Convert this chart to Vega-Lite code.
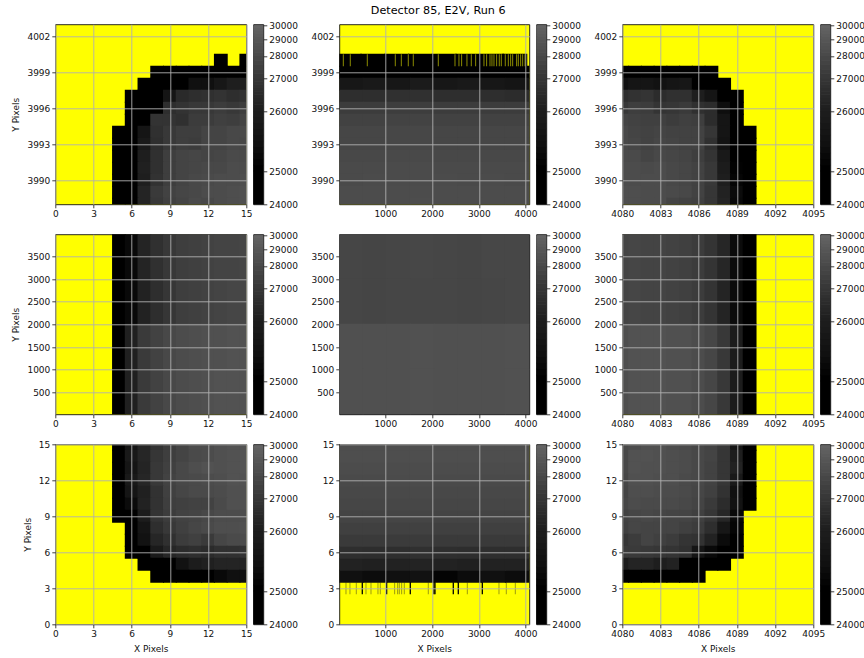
{"$schema":"https://vega.github.io/schema/vega-lite/v6.json","autosize":{"type":"pad"},"padding":{"left":11.3,"top":4.3,"right":0,"bottom":0},"background":"white",
"title":{"text":"Detector 85, E2V, Run 6","font":"DejaVu Sans","fontSize":11.2,"fontWeight":"normal","color":"#000","anchor":"middle","dx":0,"offset":4.5},
"config":{"view":{"stroke":"#111","strokeWidth":0.9,"fill":"#ffff00"},"axis":{"labelFont":"DejaVu Sans","labelFontSize":9,"labelColor":"#111","titleFont":"DejaVu Sans","titleFontSize":9,"titleFontWeight":"normal","titleColor":"#111","titlePadding":6,"grid":true,"gridColor":"#b0b0b0","gridWidth":0.9,"tickColor":"#111","tickSize":3.5,"tickWidth":0.8,"domain":false,"labelPadding":2,"labelOverlap":false,"labelFlush":false,"format":"d","title":null}},
"datasets":{
"sp":[{"x":0}],
"tl":[{"x":13,"y":4000,"v":24500},{"x":15,"y":4000,"v":24500},
{"x":8,"y":3999,"v":24500},{"x":9,"y":3999,"v":24500},{"x":10,"y":3999,"v":24500},{"x":11,"y":3999,"v":24500},{"x":12,"y":3999,"v":24500},{"x":13,"y":3999,"v":24500},{"x":14,"y":3999,"v":24500},{"x":15,"y":3999,"v":24500},
{"x":7,"y":3998,"v":24500},{"x":8,"y":3998,"v":24500},{"x":9,"y":3998,"v":24500},{"x":10,"y":3998,"v":24500},{"x":11,"y":3998,"v":25400},{"x":12,"y":3998,"v":25400},{"x":13,"y":3998,"v":25680},{"x":14,"y":3998,"v":26000},{"x":15,"y":3998,"v":26000},
{"x":6,"y":3997,"v":24500},{"x":7,"y":3997,"v":24500},{"x":8,"y":3997,"v":24500},{"x":9,"y":3997,"v":25600},{"x":10,"y":3997,"v":26460},{"x":11,"y":3997,"v":26620},{"x":12,"y":3997,"v":26690},{"x":13,"y":3997,"v":26800},{"x":14,"y":3997,"v":26620},{"x":15,"y":3997,"v":26800},
{"x":6,"y":3996,"v":24500},{"x":7,"y":3996,"v":24500},{"x":8,"y":3996,"v":24500},{"x":9,"y":3996,"v":26620},{"x":10,"y":3996,"v":26800},{"x":11,"y":3996,"v":27000},{"x":12,"y":3996,"v":27000},{"x":13,"y":3996,"v":27220},{"x":14,"y":3996,"v":27000},{"x":15,"y":3996,"v":27330},
{"x":6,"y":3995,"v":24500},{"x":7,"y":3995,"v":24500},{"x":8,"y":3995,"v":26800},{"x":9,"y":3995,"v":26800},{"x":10,"y":3995,"v":26690},{"x":11,"y":3995,"v":27220},{"x":12,"y":3995,"v":27220},{"x":13,"y":3995,"v":27440},{"x":14,"y":3995,"v":27330},{"x":15,"y":3995,"v":27670},
{"x":5,"y":3994,"v":24500},{"x":6,"y":3994,"v":24500},{"x":7,"y":3994,"v":25600},{"x":8,"y":3994,"v":26690},{"x":9,"y":3994,"v":27000},{"x":10,"y":3994,"v":27330},{"x":11,"y":3994,"v":27330},{"x":12,"y":3994,"v":27670},{"x":13,"y":3994,"v":27670},{"x":14,"y":3994,"v":27890},{"x":15,"y":3994,"v":28000},
{"x":5,"y":3993,"v":24500},{"x":6,"y":3993,"v":24500},{"x":7,"y":3993,"v":25770},{"x":8,"y":3993,"v":26620},{"x":9,"y":3993,"v":27000},{"x":10,"y":3993,"v":27330},{"x":11,"y":3993,"v":27220},{"x":12,"y":3993,"v":27670},{"x":13,"y":3993,"v":27670},{"x":14,"y":3993,"v":27890},{"x":15,"y":3993,"v":27890},
{"x":5,"y":3992,"v":24500},{"x":6,"y":3992,"v":24500},{"x":7,"y":3992,"v":26000},{"x":8,"y":3992,"v":26690},{"x":9,"y":3992,"v":27330},{"x":10,"y":3992,"v":27670},{"x":11,"y":3992,"v":27780},{"x":12,"y":3992,"v":27670},{"x":13,"y":3992,"v":27780},{"x":14,"y":3992,"v":28000},{"x":15,"y":3992,"v":28000},
{"x":5,"y":3991,"v":24500},{"x":6,"y":3991,"v":24500},{"x":7,"y":3991,"v":26080},{"x":8,"y":3991,"v":26690},{"x":9,"y":3991,"v":27330},{"x":10,"y":3991,"v":27670},{"x":11,"y":3991,"v":27780},{"x":12,"y":3991,"v":27890},{"x":13,"y":3991,"v":27890},{"x":14,"y":3991,"v":28140},{"x":15,"y":3991,"v":28140},
{"x":5,"y":3990,"v":24500},{"x":6,"y":3990,"v":24500},{"x":7,"y":3990,"v":26000},{"x":8,"y":3990,"v":26770},{"x":9,"y":3990,"v":27330},{"x":10,"y":3990,"v":27670},{"x":11,"y":3990,"v":27890},{"x":12,"y":3990,"v":28000},{"x":13,"y":3990,"v":28140},{"x":14,"y":3990,"v":28140},{"x":15,"y":3990,"v":28290},
{"x":5,"y":3989,"v":24500},{"x":6,"y":3989,"v":24500},{"x":7,"y":3989,"v":26230},{"x":8,"y":3989,"v":27110},{"x":9,"y":3989,"v":27560},{"x":10,"y":3989,"v":27780},{"x":11,"y":3989,"v":27890},{"x":12,"y":3989,"v":28140},{"x":13,"y":3989,"v":28140},{"x":14,"y":3989,"v":28290},{"x":15,"y":3989,"v":28430},
{"x":5,"y":3988,"v":24500},{"x":6,"y":3988,"v":24500},{"x":7,"y":3988,"v":26230},{"x":8,"y":3988,"v":27000},{"x":9,"y":3988,"v":27440},{"x":10,"y":3988,"v":27670},{"x":11,"y":3988,"v":28000},{"x":12,"y":3988,"v":27890},{"x":13,"y":3988,"v":28140},{"x":14,"y":3988,"v":28290},{"x":15,"y":3988,"v":28430}],
"tr":[{"x":4080,"y":3999,"v":24500},{"x":4081,"y":3999,"v":24500},{"x":4082,"y":3999,"v":24500},{"x":4083,"y":3999,"v":24500},{"x":4084,"y":3999,"v":24500},{"x":4085,"y":3999,"v":24500},{"x":4086,"y":3999,"v":24500},{"x":4087,"y":3999,"v":24500},
{"x":4080,"y":3998,"v":25400},{"x":4081,"y":3998,"v":25600},{"x":4082,"y":3998,"v":25600},{"x":4083,"y":3998,"v":25470},{"x":4084,"y":3998,"v":25600},{"x":4085,"y":3998,"v":25680},{"x":4086,"y":3998,"v":24500},{"x":4087,"y":3998,"v":24500},{"x":4088,"y":3998,"v":24500},
{"x":4080,"y":3997,"v":26620},{"x":4081,"y":3997,"v":26770},{"x":4082,"y":3997,"v":26850},{"x":4083,"y":3997,"v":26540},{"x":4084,"y":3997,"v":26690},{"x":4085,"y":3997,"v":26690},{"x":4086,"y":3997,"v":26000},{"x":4087,"y":3997,"v":25600},{"x":4088,"y":3997,"v":24500},{"x":4089,"y":3997,"v":24500},
{"x":4080,"y":3996,"v":27000},{"x":4081,"y":3996,"v":27330},{"x":4082,"y":3996,"v":27220},{"x":4083,"y":3996,"v":26850},{"x":4084,"y":3996,"v":26920},{"x":4085,"y":3996,"v":27110},{"x":4086,"y":3996,"v":26690},{"x":4087,"y":3996,"v":26540},{"x":4088,"y":3996,"v":25350},{"x":4089,"y":3996,"v":24500},
{"x":4080,"y":3995,"v":27670},{"x":4081,"y":3995,"v":27560},{"x":4082,"y":3995,"v":27440},{"x":4083,"y":3995,"v":27440},{"x":4084,"y":3995,"v":27220},{"x":4085,"y":3995,"v":27440},{"x":4086,"y":3995,"v":27330},{"x":4087,"y":3995,"v":26540},{"x":4088,"y":3995,"v":25600},{"x":4089,"y":3995,"v":24500},
{"x":4080,"y":3994,"v":27890},{"x":4081,"y":3994,"v":27670},{"x":4082,"y":3994,"v":27560},{"x":4083,"y":3994,"v":27670},{"x":4084,"y":3994,"v":27560},{"x":4085,"y":3994,"v":27560},{"x":4086,"y":3994,"v":27560},{"x":4087,"y":3994,"v":26920},{"x":4088,"y":3994,"v":25600},{"x":4089,"y":3994,"v":24500},{"x":4090,"y":3994,"v":24500},
{"x":4080,"y":3993,"v":27890},{"x":4081,"y":3993,"v":27780},{"x":4082,"y":3993,"v":27560},{"x":4083,"y":3993,"v":27780},{"x":4084,"y":3993,"v":27670},{"x":4085,"y":3993,"v":27560},{"x":4086,"y":3993,"v":27560},{"x":4087,"y":3993,"v":26690},{"x":4088,"y":3993,"v":25540},{"x":4089,"y":3993,"v":24500},{"x":4090,"y":3993,"v":24500},
{"x":4080,"y":3992,"v":28000},{"x":4081,"y":3992,"v":28000},{"x":4082,"y":3992,"v":27670},{"x":4083,"y":3992,"v":27890},{"x":4084,"y":3992,"v":27780},{"x":4085,"y":3992,"v":27670},{"x":4086,"y":3992,"v":27330},{"x":4087,"y":3992,"v":26850},{"x":4088,"y":3992,"v":25770},{"x":4089,"y":3992,"v":24500},{"x":4090,"y":3992,"v":24500},
{"x":4080,"y":3991,"v":28140},{"x":4081,"y":3991,"v":28140},{"x":4082,"y":3991,"v":28000},{"x":4083,"y":3991,"v":28140},{"x":4084,"y":3991,"v":27890},{"x":4085,"y":3991,"v":27780},{"x":4086,"y":3991,"v":27560},{"x":4087,"y":3991,"v":27000},{"x":4088,"y":3991,"v":25930},{"x":4089,"y":3991,"v":25050},{"x":4090,"y":3991,"v":24500},
{"x":4080,"y":3990,"v":28140},{"x":4081,"y":3990,"v":28140},{"x":4082,"y":3990,"v":28140},{"x":4083,"y":3990,"v":28140},{"x":4084,"y":3990,"v":27890},{"x":4085,"y":3990,"v":27780},{"x":4086,"y":3990,"v":27560},{"x":4087,"y":3990,"v":27000},{"x":4088,"y":3990,"v":26000},{"x":4089,"y":3990,"v":25120},{"x":4090,"y":3990,"v":24500},
{"x":4080,"y":3989,"v":28290},{"x":4081,"y":3989,"v":28290},{"x":4082,"y":3989,"v":28140},{"x":4083,"y":3989,"v":28140},{"x":4084,"y":3989,"v":28000},{"x":4085,"y":3989,"v":27890},{"x":4086,"y":3989,"v":27560},{"x":4087,"y":3989,"v":26920},{"x":4088,"y":3989,"v":26150},{"x":4089,"y":3989,"v":25280},{"x":4090,"y":3989,"v":24500},
{"x":4080,"y":3988,"v":28290},{"x":4081,"y":3988,"v":28290},{"x":4082,"y":3988,"v":28140},{"x":4083,"y":3988,"v":28140},{"x":4084,"y":3988,"v":27670},{"x":4085,"y":3988,"v":27560},{"x":4086,"y":3988,"v":27440},{"x":4087,"y":3988,"v":26920},{"x":4088,"y":3988,"v":26230},{"x":4089,"y":3988,"v":25220},{"x":4090,"y":3988,"v":24500}],
"bl":[{"x":5,"y":15,"v":24500},{"x":6,"y":15,"v":25600},{"x":7,"y":15,"v":26230},{"x":8,"y":15,"v":26800},{"x":9,"y":15,"v":27220},{"x":10,"y":15,"v":27670},{"x":11,"y":15,"v":28140},{"x":12,"y":15,"v":28140},{"x":13,"y":15,"v":28430},{"x":14,"y":15,"v":28570},{"x":15,"y":15,"v":28570},
{"x":5,"y":14,"v":24500},{"x":6,"y":14,"v":25770},{"x":7,"y":14,"v":26310},{"x":8,"y":14,"v":26920},{"x":9,"y":14,"v":27330},{"x":10,"y":14,"v":27670},{"x":11,"y":14,"v":28000},{"x":12,"y":14,"v":28140},{"x":13,"y":14,"v":28430},{"x":14,"y":14,"v":28570},{"x":15,"y":14,"v":28710},
{"x":5,"y":13,"v":24500},{"x":6,"y":13,"v":25600},{"x":7,"y":13,"v":26230},{"x":8,"y":13,"v":27000},{"x":9,"y":13,"v":27440},{"x":10,"y":13,"v":27890},{"x":11,"y":13,"v":28290},{"x":12,"y":13,"v":28570},{"x":13,"y":13,"v":28430},{"x":14,"y":13,"v":28570},{"x":15,"y":13,"v":28710},
{"x":5,"y":12,"v":24500},{"x":6,"y":12,"v":25770},{"x":7,"y":12,"v":26310},{"x":8,"y":12,"v":27000},{"x":9,"y":12,"v":27560},{"x":10,"y":12,"v":27890},{"x":11,"y":12,"v":28000},{"x":12,"y":12,"v":28140},{"x":13,"y":12,"v":28290},{"x":14,"y":12,"v":28570},{"x":15,"y":12,"v":28570},
{"x":5,"y":11,"v":24500},{"x":6,"y":11,"v":25600},{"x":7,"y":11,"v":26080},{"x":8,"y":11,"v":26770},{"x":9,"y":11,"v":27440},{"x":10,"y":11,"v":27780},{"x":11,"y":11,"v":28000},{"x":12,"y":11,"v":28000},{"x":13,"y":11,"v":28140},{"x":14,"y":11,"v":28430},{"x":15,"y":11,"v":28430},
{"x":5,"y":10,"v":24500},{"x":6,"y":10,"v":25280},{"x":7,"y":10,"v":26150},{"x":8,"y":10,"v":26770},{"x":9,"y":10,"v":27330},{"x":10,"y":10,"v":27440},{"x":11,"y":10,"v":27560},{"x":12,"y":10,"v":27560},{"x":13,"y":10,"v":28000},{"x":14,"y":10,"v":28430},{"x":15,"y":10,"v":28430},
{"x":5,"y":9,"v":24500},{"x":6,"y":9,"v":24500},{"x":7,"y":9,"v":25930},{"x":8,"y":9,"v":26850},{"x":9,"y":9,"v":27220},{"x":10,"y":9,"v":27560},{"x":11,"y":9,"v":27670},{"x":12,"y":9,"v":27890},{"x":13,"y":9,"v":28140},{"x":14,"y":9,"v":28140},{"x":15,"y":9,"v":28290},
{"x":6,"y":8,"v":24500},{"x":7,"y":8,"v":25600},{"x":8,"y":8,"v":26620},{"x":9,"y":8,"v":27000},{"x":10,"y":8,"v":27440},{"x":11,"y":8,"v":27780},{"x":12,"y":8,"v":28000},{"x":13,"y":8,"v":28290},{"x":14,"y":8,"v":28290},{"x":15,"y":8,"v":28430},
{"x":6,"y":7,"v":24500},{"x":7,"y":7,"v":25470},{"x":8,"y":7,"v":26310},{"x":9,"y":7,"v":26690},{"x":10,"y":7,"v":27220},{"x":11,"y":7,"v":27440},{"x":12,"y":7,"v":27110},{"x":13,"y":7,"v":27780},{"x":14,"y":7,"v":28000},{"x":15,"y":7,"v":28140},
{"x":6,"y":6,"v":24500},{"x":7,"y":6,"v":24500},{"x":8,"y":6,"v":25800},{"x":9,"y":6,"v":26300},{"x":10,"y":6,"v":26500},{"x":11,"y":6,"v":26620},{"x":12,"y":6,"v":26500},{"x":13,"y":6,"v":26700},{"x":14,"y":6,"v":26700},{"x":15,"y":6,"v":26800},
{"x":7,"y":5,"v":24500},{"x":8,"y":5,"v":24500},{"x":9,"y":5,"v":24500},{"x":10,"y":5,"v":25500},{"x":11,"y":5,"v":25900},{"x":12,"y":5,"v":26100},{"x":13,"y":5,"v":26230},{"x":14,"y":5,"v":26230},{"x":15,"y":5,"v":26230},
{"x":8,"y":4,"v":24500},{"x":9,"y":4,"v":24500},{"x":10,"y":4,"v":24500},{"x":11,"y":4,"v":24500},{"x":12,"y":4,"v":24500},{"x":13,"y":4,"v":25220},{"x":14,"y":4,"v":25400},{"x":15,"y":4,"v":25400}],
"br":[{"x":4080,"y":15,"v":27890},{"x":4081,"y":15,"v":28140},{"x":4082,"y":15,"v":28430},{"x":4083,"y":15,"v":28430},{"x":4084,"y":15,"v":28140},{"x":4085,"y":15,"v":28000},{"x":4086,"y":15,"v":27780},{"x":4087,"y":15,"v":27560},{"x":4088,"y":15,"v":27000},{"x":4089,"y":15,"v":25600},{"x":4090,"y":15,"v":24500},
{"x":4080,"y":14,"v":27890},{"x":4081,"y":14,"v":28570},{"x":4082,"y":14,"v":28570},{"x":4083,"y":14,"v":28430},{"x":4084,"y":14,"v":28290},{"x":4085,"y":14,"v":28140},{"x":4086,"y":14,"v":27890},{"x":4087,"y":14,"v":27670},{"x":4088,"y":14,"v":26920},{"x":4089,"y":14,"v":26000},{"x":4090,"y":14,"v":24500},
{"x":4080,"y":13,"v":27890},{"x":4081,"y":13,"v":28570},{"x":4082,"y":13,"v":28430},{"x":4083,"y":13,"v":28430},{"x":4084,"y":13,"v":28290},{"x":4085,"y":13,"v":28140},{"x":4086,"y":13,"v":27890},{"x":4087,"y":13,"v":27560},{"x":4088,"y":13,"v":26920},{"x":4089,"y":13,"v":26150},{"x":4090,"y":13,"v":24500},
{"x":4080,"y":12,"v":27780},{"x":4081,"y":12,"v":28430},{"x":4082,"y":12,"v":28430},{"x":4083,"y":12,"v":28290},{"x":4084,"y":12,"v":28290},{"x":4085,"y":12,"v":28000},{"x":4086,"y":12,"v":27890},{"x":4087,"y":12,"v":27560},{"x":4088,"y":12,"v":26920},{"x":4089,"y":12,"v":25770},{"x":4090,"y":12,"v":24500},
{"x":4080,"y":11,"v":27670},{"x":4081,"y":11,"v":28290},{"x":4082,"y":11,"v":28290},{"x":4083,"y":11,"v":28140},{"x":4084,"y":11,"v":28140},{"x":4085,"y":11,"v":28000},{"x":4086,"y":11,"v":27780},{"x":4087,"y":11,"v":27440},{"x":4088,"y":11,"v":26770},{"x":4089,"y":11,"v":25400},{"x":4090,"y":11,"v":24500},
{"x":4080,"y":10,"v":27780},{"x":4081,"y":10,"v":28140},{"x":4082,"y":10,"v":28000},{"x":4083,"y":10,"v":28000},{"x":4084,"y":10,"v":28000},{"x":4085,"y":10,"v":27890},{"x":4086,"y":10,"v":27670},{"x":4087,"y":10,"v":27110},{"x":4088,"y":10,"v":26540},{"x":4089,"y":10,"v":25470},{"x":4090,"y":10,"v":24500},
{"x":4080,"y":9,"v":27560},{"x":4081,"y":9,"v":27780},{"x":4082,"y":9,"v":27890},{"x":4083,"y":9,"v":27780},{"x":4084,"y":9,"v":27670},{"x":4085,"y":9,"v":27670},{"x":4086,"y":9,"v":27440},{"x":4087,"y":9,"v":26920},{"x":4088,"y":9,"v":26310},{"x":4089,"y":9,"v":25220},
{"x":4080,"y":8,"v":27440},{"x":4081,"y":8,"v":27780},{"x":4082,"y":8,"v":27670},{"x":4083,"y":8,"v":27670},{"x":4084,"y":8,"v":27670},{"x":4085,"y":8,"v":27440},{"x":4086,"y":8,"v":27220},{"x":4087,"y":8,"v":26620},{"x":4088,"y":8,"v":25680},{"x":4089,"y":8,"v":25120},
{"x":4080,"y":7,"v":26920},{"x":4081,"y":7,"v":27220},{"x":4082,"y":7,"v":27670},{"x":4083,"y":7,"v":27440},{"x":4084,"y":7,"v":27220},{"x":4085,"y":7,"v":26850},{"x":4086,"y":7,"v":26770},{"x":4087,"y":7,"v":26150},{"x":4088,"y":7,"v":25280},{"x":4089,"y":7,"v":24500},
{"x":4080,"y":6,"v":27110},{"x":4081,"y":6,"v":27110},{"x":4082,"y":6,"v":27000},{"x":4083,"y":6,"v":26920},{"x":4084,"y":6,"v":26850},{"x":4085,"y":6,"v":26690},{"x":4086,"y":6,"v":25600},{"x":4087,"y":6,"v":25220},{"x":4088,"y":6,"v":24500},{"x":4089,"y":6,"v":24500},
{"x":4080,"y":5,"v":25930},{"x":4081,"y":5,"v":26230},{"x":4082,"y":5,"v":26230},{"x":4083,"y":5,"v":26000},{"x":4084,"y":5,"v":26150},{"x":4085,"y":5,"v":24500},{"x":4086,"y":5,"v":24500},{"x":4087,"y":5,"v":24500},{"x":4088,"y":5,"v":24500},
{"x":4080,"y":4,"v":24500},{"x":4081,"y":4,"v":24500},{"x":4082,"y":4,"v":24500},{"x":4083,"y":4,"v":24500},{"x":4084,"y":4,"v":24500},{"x":4085,"y":4,"v":24500},{"x":4086,"y":4,"v":24500}],
"ml":[{"x":5,"y":3491,"v":24500},{"x":6,"y":3491,"v":25220},{"x":7,"y":3491,"v":26230},{"x":8,"y":3491,"v":26690},{"x":9,"y":3491,"v":27000},{"x":10,"y":3491,"v":27330},{"x":11,"y":3491,"v":27440},{"x":12,"y":3491,"v":27560},{"x":13,"y":3491,"v":27670},{"x":14,"y":3491,"v":27670},{"x":15,"y":3491,"v":27780},
{"x":5,"y":2499,"v":24500},{"x":6,"y":2499,"v":25220},{"x":7,"y":2499,"v":26150},{"x":8,"y":2499,"v":26620},{"x":9,"y":2499,"v":26920},{"x":10,"y":2499,"v":27330},{"x":11,"y":2499,"v":27440},{"x":12,"y":2499,"v":27560},{"x":13,"y":2499,"v":27670},{"x":14,"y":2499,"v":27780},{"x":15,"y":2499,"v":27780},
{"x":5,"y":1505,"v":24500},{"x":6,"y":1505,"v":26080},{"x":7,"y":1505,"v":27110},{"x":8,"y":1505,"v":27560},{"x":9,"y":1505,"v":27890},{"x":10,"y":1505,"v":28140},{"x":11,"y":1505,"v":28290},{"x":12,"y":1505,"v":28430},{"x":13,"y":1505,"v":28430},{"x":14,"y":1505,"v":28570},{"x":15,"y":1505,"v":28570},
{"x":5,"y":511,"v":24500},{"x":6,"y":511,"v":26080},{"x":7,"y":511,"v":27110},{"x":8,"y":511,"v":27560},{"x":9,"y":511,"v":27890},{"x":10,"y":511,"v":28140},{"x":11,"y":511,"v":28290},{"x":12,"y":511,"v":28430},{"x":13,"y":511,"v":28570},{"x":14,"y":511,"v":28570},{"x":15,"y":511,"v":28570}],
"mr":[{"x":4080,"y":3491,"v":27670},{"x":4081,"y":3491,"v":27780},{"x":4082,"y":3491,"v":27670},{"x":4083,"y":3491,"v":27670},{"x":4084,"y":3491,"v":27560},{"x":4085,"y":3491,"v":27440},{"x":4086,"y":3491,"v":27220},{"x":4087,"y":3491,"v":26850},{"x":4088,"y":3491,"v":26310},{"x":4089,"y":3491,"v":25280},{"x":4090,"y":3491,"v":24500},
{"x":4080,"y":2499,"v":27670},{"x":4081,"y":2499,"v":27780},{"x":4082,"y":2499,"v":27670},{"x":4083,"y":2499,"v":27670},{"x":4084,"y":2499,"v":27560},{"x":4085,"y":2499,"v":27440},{"x":4086,"y":2499,"v":27220},{"x":4087,"y":2499,"v":26850},{"x":4088,"y":2499,"v":26230},{"x":4089,"y":2499,"v":25280},{"x":4090,"y":2499,"v":24500},
{"x":4080,"y":1505,"v":28290},{"x":4081,"y":1505,"v":28570},{"x":4082,"y":1505,"v":28570},{"x":4083,"y":1505,"v":28570},{"x":4084,"y":1505,"v":28430},{"x":4085,"y":1505,"v":28430},{"x":4086,"y":1505,"v":28140},{"x":4087,"y":1505,"v":27780},{"x":4088,"y":1505,"v":27000},{"x":4089,"y":1505,"v":25930},{"x":4090,"y":1505,"v":24500},
{"x":4080,"y":511,"v":28290},{"x":4081,"y":511,"v":28570},{"x":4082,"y":511,"v":28570},{"x":4083,"y":511,"v":28570},{"x":4084,"y":511,"v":28430},{"x":4085,"y":511,"v":28430},{"x":4086,"y":511,"v":28140},{"x":4087,"y":511,"v":27780},{"x":4088,"y":511,"v":27000},{"x":4089,"y":511,"v":25930},{"x":4090,"y":511,"v":24500}],
"mc":[{"x":269,"y":3491,"v":27780},{"x":777,"y":3491,"v":27740},{"x":1285,"y":3491,"v":27780},{"x":1793,"y":3491,"v":27820},{"x":2301,"y":3491,"v":27780},{"x":2809,"y":3491,"v":27740},{"x":3317,"y":3491,"v":27820},{"x":3825,"y":3491,"v":27860},
{"x":269,"y":2499,"v":27760},{"x":777,"y":2499,"v":27720},{"x":1285,"y":2499,"v":27760},{"x":1793,"y":2499,"v":27800},{"x":2301,"y":2499,"v":27760},{"x":2809,"y":2499,"v":27720},{"x":3317,"y":2499,"v":27800},{"x":3825,"y":2499,"v":27840},
{"x":269,"y":1505,"v":28400},{"x":777,"y":1505,"v":28430},{"x":1285,"y":1505,"v":28400},{"x":1793,"y":1505,"v":28470},{"x":2301,"y":1505,"v":28400},{"x":2809,"y":1505,"v":28430},{"x":3317,"y":1505,"v":28430},{"x":3825,"y":1505,"v":28470},
{"x":269,"y":511,"v":28430},{"x":777,"y":511,"v":28460},{"x":1285,"y":511,"v":28430},{"x":1793,"y":511,"v":28500},{"x":2301,"y":511,"v":28430},{"x":2809,"y":511,"v":28460},{"x":3317,"y":511,"v":28460},{"x":3825,"y":511,"v":28500}],
"tc":[{"x":226,"y":4000,"v":24500},{"x":734,"y":4000,"v":24500},{"x":1242,"y":4000,"v":24500},{"x":1750,"y":4000,"v":24500},{"x":2258,"y":4000,"v":24500},{"x":2766,"y":4000,"v":24500},{"x":3274,"y":4000,"v":24500},{"x":3770,"y":4000,"v":24500},
{"x":269,"y":3999,"v":25000},{"x":777,"y":3999,"v":25000},{"x":1285,"y":3999,"v":25000},{"x":1793,"y":3999,"v":25000},{"x":2301,"y":3999,"v":25000},{"x":2809,"y":3999,"v":25000},{"x":3317,"y":3999,"v":25000},{"x":3825,"y":3999,"v":25000},
{"x":269,"y":3998,"v":25700},{"x":777,"y":3998,"v":25770},{"x":1285,"y":3998,"v":25700},{"x":1793,"y":3998,"v":25850},{"x":2301,"y":3998,"v":25700},{"x":2809,"y":3998,"v":25770},{"x":3317,"y":3998,"v":25700},{"x":3825,"y":3998,"v":25600},
{"x":269,"y":3997,"v":26620},{"x":777,"y":3997,"v":26620},{"x":1285,"y":3997,"v":26690},{"x":1793,"y":3997,"v":26690},{"x":2301,"y":3997,"v":26620},{"x":2809,"y":3997,"v":26620},{"x":3317,"y":3997,"v":26620},{"x":3825,"y":3997,"v":26540},
{"x":269,"y":3996,"v":27220},{"x":777,"y":3996,"v":27220},{"x":1285,"y":3996,"v":27260},{"x":1793,"y":3996,"v":27260},{"x":2301,"y":3996,"v":27220},{"x":2809,"y":3996,"v":27220},{"x":3317,"y":3996,"v":27220},{"x":3825,"y":3996,"v":27220},
{"x":269,"y":3995,"v":27560},{"x":777,"y":3995,"v":27560},{"x":1285,"y":3995,"v":27600},{"x":1793,"y":3995,"v":27600},{"x":2301,"y":3995,"v":27560},{"x":2809,"y":3995,"v":27560},{"x":3317,"y":3995,"v":27560},{"x":3825,"y":3995,"v":27560},
{"x":269,"y":3994,"v":27780},{"x":777,"y":3994,"v":27780},{"x":1285,"y":3994,"v":27820},{"x":1793,"y":3994,"v":27820},{"x":2301,"y":3994,"v":27780},{"x":2809,"y":3994,"v":27780},{"x":3317,"y":3994,"v":27780},{"x":3825,"y":3994,"v":27780},
{"x":269,"y":3993,"v":27780},{"x":777,"y":3993,"v":27800},{"x":1285,"y":3993,"v":27820},{"x":1793,"y":3993,"v":27840},{"x":2301,"y":3993,"v":27800},{"x":2809,"y":3993,"v":27780},{"x":3317,"y":3993,"v":27800},{"x":3825,"y":3993,"v":27780},
{"x":269,"y":3992,"v":27890},{"x":777,"y":3992,"v":27890},{"x":1285,"y":3992,"v":27930},{"x":1793,"y":3992,"v":27930},{"x":2301,"y":3992,"v":27890},{"x":2809,"y":3992,"v":27890},{"x":3317,"y":3992,"v":27890},{"x":3825,"y":3992,"v":27890},
{"x":269,"y":3991,"v":28000},{"x":777,"y":3991,"v":28000},{"x":1285,"y":3991,"v":28040},{"x":1793,"y":3991,"v":28040},{"x":2301,"y":3991,"v":28000},{"x":2809,"y":3991,"v":28000},{"x":3317,"y":3991,"v":28000},{"x":3825,"y":3991,"v":28000},
{"x":269,"y":3990,"v":28000},{"x":777,"y":3990,"v":28040},{"x":1285,"y":3990,"v":28060},{"x":1793,"y":3990,"v":28060},{"x":2301,"y":3990,"v":28040},{"x":2809,"y":3990,"v":28000},{"x":3317,"y":3990,"v":28040},{"x":3825,"y":3990,"v":28000},
{"x":269,"y":3989,"v":28140},{"x":777,"y":3989,"v":28140},{"x":1285,"y":3989,"v":28180},{"x":1793,"y":3989,"v":28180},{"x":2301,"y":3989,"v":28140},{"x":2809,"y":3989,"v":28140},{"x":3317,"y":3989,"v":28140},{"x":3825,"y":3989,"v":28140},
{"x":269,"y":3988,"v":28140},{"x":777,"y":3988,"v":28160},{"x":1285,"y":3988,"v":28180},{"x":1793,"y":3988,"v":28200},{"x":2301,"y":3988,"v":28160},{"x":2809,"y":3988,"v":28140},{"x":3317,"y":3988,"v":28160},{"x":3825,"y":3988,"v":28140}],
"bc":[{"x":269,"y":4,"v":25400},{"x":777,"y":4,"v":25300},{"x":1285,"y":4,"v":25400},{"x":1793,"y":4,"v":25500},{"x":2301,"y":4,"v":25100},{"x":2809,"y":4,"v":25300},{"x":3317,"y":4,"v":25400},{"x":3825,"y":4,"v":25300},
{"x":269,"y":5,"v":26150},{"x":777,"y":5,"v":26100},{"x":1285,"y":5,"v":26150},{"x":1793,"y":5,"v":26200},{"x":2301,"y":5,"v":26150},{"x":2809,"y":5,"v":26100},{"x":3317,"y":5,"v":26150},{"x":3825,"y":5,"v":26150},
{"x":269,"y":6,"v":26620},{"x":777,"y":6,"v":26600},{"x":1285,"y":6,"v":26620},{"x":1793,"y":6,"v":26690},{"x":2301,"y":6,"v":26620},{"x":2809,"y":6,"v":26600},{"x":3317,"y":6,"v":26620},{"x":3825,"y":6,"v":26620},
{"x":269,"y":7,"v":27110},{"x":777,"y":7,"v":27110},{"x":1285,"y":7,"v":27150},{"x":1793,"y":7,"v":27150},{"x":2301,"y":7,"v":27110},{"x":2809,"y":7,"v":27110},{"x":3317,"y":7,"v":27110},{"x":3825,"y":7,"v":27110},
{"x":269,"y":8,"v":27440},{"x":777,"y":8,"v":27440},{"x":1285,"y":8,"v":27480},{"x":1793,"y":8,"v":27480},{"x":2301,"y":8,"v":27440},{"x":2809,"y":8,"v":27440},{"x":3317,"y":8,"v":27440},{"x":3825,"y":8,"v":27440},
{"x":269,"y":9,"v":27670},{"x":777,"y":9,"v":27670},{"x":1285,"y":9,"v":27700},{"x":1793,"y":9,"v":27700},{"x":2301,"y":9,"v":27670},{"x":2809,"y":9,"v":27670},{"x":3317,"y":9,"v":27670},{"x":3825,"y":9,"v":27670},
{"x":269,"y":10,"v":27780},{"x":777,"y":10,"v":27780},{"x":1285,"y":10,"v":27820},{"x":1793,"y":10,"v":27820},{"x":2301,"y":10,"v":27780},{"x":2809,"y":10,"v":27780},{"x":3317,"y":10,"v":27780},{"x":3825,"y":10,"v":27780},
{"x":269,"y":11,"v":27890},{"x":777,"y":11,"v":27890},{"x":1285,"y":11,"v":27930},{"x":1793,"y":11,"v":27930},{"x":2301,"y":11,"v":27890},{"x":2809,"y":11,"v":27890},{"x":3317,"y":11,"v":27890},{"x":3825,"y":11,"v":27890},
{"x":269,"y":12,"v":28000},{"x":777,"y":12,"v":28000},{"x":1285,"y":12,"v":28040},{"x":1793,"y":12,"v":28040},{"x":2301,"y":12,"v":28000},{"x":2809,"y":12,"v":28000},{"x":3317,"y":12,"v":28000},{"x":3825,"y":12,"v":28000},
{"x":269,"y":13,"v":28140},{"x":777,"y":13,"v":28140},{"x":1285,"y":13,"v":28180},{"x":1793,"y":13,"v":28180},{"x":2301,"y":13,"v":28140},{"x":2809,"y":13,"v":28140},{"x":3317,"y":13,"v":28140},{"x":3825,"y":13,"v":28140},
{"x":269,"y":14,"v":28290},{"x":777,"y":14,"v":28290},{"x":1285,"y":14,"v":28320},{"x":1793,"y":14,"v":28320},{"x":2301,"y":14,"v":28290},{"x":2809,"y":14,"v":28290},{"x":3317,"y":14,"v":28290},{"x":3825,"y":14,"v":28290},
{"x":269,"y":15,"v":28290},{"x":777,"y":15,"v":28290},{"x":1285,"y":15,"v":28320},{"x":1793,"y":15,"v":28320},{"x":2301,"y":15,"v":28290},{"x":2809,"y":15,"v":28290},{"x":3317,"y":15,"v":28290},{"x":3825,"y":15,"v":28290}],
"ts":[{"x":101,"y":4000},{"x":250,"y":4000},{"x":614,"y":4000},{"x":1213,"y":4000},{"x":1342,"y":4000},{"x":1491,"y":4000},{"x":1598,"y":4000},{"x":2133,"y":4000},{"x":2490,"y":4000},{"x":2575,"y":4000},{"x":2632,"y":4000},{"x":2746,"y":4000},{"x":2839,"y":4000},{"x":2932,"y":4000},{"x":3110,"y":4000},{"x":3167,"y":4000},{"x":3239,"y":4000},{"x":3281,"y":4000},{"x":3324,"y":4000},{"x":3381,"y":4000},{"x":3438,"y":4000},{"x":3481,"y":4000},{"x":3566,"y":4000},{"x":3631,"y":4000},{"x":3681,"y":4000},{"x":3724,"y":4000},{"x":3809,"y":4000},{"x":3845,"y":4000},{"x":3895,"y":4000},{"x":3938,"y":4000},{"x":3988,"y":4000}],
"bs1":[{"x":507,"y":3},{"x":1028,"y":3},{"x":1534,"y":3},{"x":2040,"y":3},{"x":2062,"y":3},{"x":2454,"y":3},{"x":2561,"y":3},{"x":3075,"y":3}],
"bs2":[{"x":158,"y":3},{"x":243,"y":3},{"x":379,"y":3},{"x":586,"y":3},{"x":693,"y":3},{"x":842,"y":3},{"x":892,"y":3},{"x":1199,"y":3},{"x":1263,"y":3},{"x":1299,"y":3},{"x":1349,"y":3},{"x":1406,"y":3},{"x":1919,"y":3},{"x":2754,"y":3},{"x":3431,"y":3},{"x":3588,"y":3},{"x":3781,"y":3}],
"cb":[{"a":24000,"b":25010},{"a":25000,"b":25110},{"a":25100,"b":25210},{"a":25200,"b":25310},{"a":25300,"b":25410},{"a":25400,"b":25510},{"a":25500,"b":25610},{"a":25600,"b":25710},{"a":25700,"b":25810},{"a":25800,"b":25910},{"a":25900,"b":26010},{"a":26000,"b":26110},{"a":26100,"b":26210},{"a":26200,"b":26310},{"a":26300,"b":26410},{"a":26400,"b":26510},{"a":26500,"b":26610},{"a":26600,"b":26710},{"a":26700,"b":26810},{"a":26800,"b":26910},{"a":26900,"b":27010},{"a":27000,"b":27210},{"a":27200,"b":27410},{"a":27400,"b":27610},{"a":27600,"b":27810},{"a":27800,"b":28010},{"a":28000,"b":28210},{"a":28200,"b":28410},{"a":28400,"b":28610},{"a":28600,"b":28810},{"a":28800,"b":29010},{"a":29000,"b":29210},{"a":29200,"b":29410},{"a":29400,"b":29610},{"a":29600,"b":29810},{"a":29800,"b":30000}]
},
"columns":8,"align":"each","bounds":"flush","spacing":{"row":30,"column":7},
"concat":[
{"width":191,"height":180,"data":{"name":"tl"},"mark":{"type":"rect","width":13.8,"height":13,"clip":true},"encoding":{"x":{"field":"x","type":"quantitative","scale":{"domain":[0,15]},"axis":{"zindex":1,"values":[0,3,6,9,12,15]}},"y":{"field":"y","type":"quantitative","scale":{"domain":[3988,4003]},"axis":{"zindex":1,"values":[3990,3993,3996,3999,4002],"title":"Y Pixels"}},"color":{"field":"v","type":"quantitative","legend":null,"scale":{"domain":[24000,25000,26000,27000,28000,29000,30000],"range":["#000000","#000000","#1e1e1e","#383838","#4a4a4a","#585858","#666666"]}}}},
{"width":10,"height":180,"view":{"fill":"#666666"},"data":{"name":"cb"},"mark":{"type":"rect"},"encoding":{"y":{"field":"a","type":"quantitative","scale":{"domain":[24000,25000,26000,27000,28000,29000,30000],"range":[180,147,87,54,31.7,15,1]},"axis":{"orient":"right","values":[24000,25000,26000,27000,28000,29000,30000],"grid":false}},"y2":{"field":"b"},"color":{"field":"a","type":"quantitative","legend":null,"scale":{"domain":[24000,25000,26000,27000,28000,29000,30000],"range":["#000000","#000000","#1e1e1e","#383838","#4a4a4a","#585858","#666666"]}}}},
{"width":62,"height":180,"view":{"fill":null,"stroke":null},"data":{"name":"sp"},"mark":{"type":"rule","opacity":0},"encoding":{}},
{"width":190,"height":180,"layer":[
{"data":{"name":"tc"},"mark":{"type":"rect","width":25,"height":13,"clip":true},"encoding":{"x":{"field":"x","type":"quantitative","scale":{"domain":[15,4080]},"axis":{"zindex":1,"values":[1000,2000,3000,4000]}},"y":{"field":"y","type":"quantitative","scale":{"domain":[3988,4003]},"axis":{"zindex":1,"values":[3990,3993,3996,3999,4002]}},"color":{"field":"v","type":"quantitative","legend":null,"scale":{"domain":[24000,25000,26000,27000,28000,29000,30000],"range":["#000000","#000000","#1e1e1e","#383838","#4a4a4a","#585858","#666666"]}}}},
{"data":{"name":"ts"},"mark":{"type":"rect","width":1,"height":12,"clip":true,"color":"#ffff00","opacity":0.55},"encoding":{"x":{"field":"x","type":"quantitative","scale":{"domain":[15,4080]},"axis":{"zindex":1,"values":[1000,2000,3000,4000]}},"y":{"field":"y","type":"quantitative","scale":{"domain":[3988,4003]},"axis":{"zindex":1,"values":[3990,3993,3996,3999,4002]}}}}
]},
{"width":10,"height":180,"view":{"fill":"#666666"},"data":{"name":"cb"},"mark":{"type":"rect"},"encoding":{"y":{"field":"a","type":"quantitative","scale":{"domain":[24000,25000,26000,27000,28000,29000,30000],"range":[180,147,87,54,31.7,15,1]},"axis":{"orient":"right","values":[24000,25000,26000,27000,28000,29000,30000],"grid":false}},"y2":{"field":"b"},"color":{"field":"a","type":"quantitative","legend":null,"scale":{"domain":[24000,25000,26000,27000,28000,29000,30000],"range":["#000000","#000000","#1e1e1e","#383838","#4a4a4a","#585858","#666666"]}}}},
{"width":62,"height":180,"view":{"fill":null,"stroke":null},"data":{"name":"sp"},"mark":{"type":"rule","opacity":0},"encoding":{}},
{"width":191,"height":180,"data":{"name":"tr"},"mark":{"type":"rect","width":13.8,"height":13,"clip":true},"encoding":{"x":{"field":"x","type":"quantitative","scale":{"domain":[4080,4095]},"axis":{"zindex":1,"values":[4080,4083,4086,4089,4092,4095]}},"y":{"field":"y","type":"quantitative","scale":{"domain":[3988,4003]},"axis":{"zindex":1,"values":[3990,3993,3996,3999,4002]}},"color":{"field":"v","type":"quantitative","legend":null,"scale":{"domain":[24000,25000,26000,27000,28000,29000,30000],"range":["#000000","#000000","#1e1e1e","#383838","#4a4a4a","#585858","#666666"]}}}},
{"width":10,"height":180,"view":{"fill":"#666666"},"data":{"name":"cb"},"mark":{"type":"rect"},"encoding":{"y":{"field":"a","type":"quantitative","scale":{"domain":[24000,25000,26000,27000,28000,29000,30000],"range":[180,147,87,54,31.7,15,1]},"axis":{"orient":"right","values":[24000,25000,26000,27000,28000,29000,30000],"grid":false}},"y2":{"field":"b"},"color":{"field":"a","type":"quantitative","legend":null,"scale":{"domain":[24000,25000,26000,27000,28000,29000,30000],"range":["#000000","#000000","#1e1e1e","#383838","#4a4a4a","#585858","#666666"]}}}},
{"width":191,"height":180,"data":{"name":"ml"},"mark":{"type":"rect","width":13.8,"height":46,"clip":true},"encoding":{"x":{"field":"x","type":"quantitative","scale":{"domain":[0,15]},"axis":{"zindex":1,"values":[0,3,6,9,12,15]}},"y":{"field":"y","type":"quantitative","scale":{"domain":[15,3988]},"axis":{"zindex":1,"values":[500,1000,1500,2000,2500,3000,3500],"title":"Y Pixels"}},"color":{"field":"v","type":"quantitative","legend":null,"scale":{"domain":[24000,25000,26000,27000,28000,29000,30000],"range":["#000000","#000000","#1e1e1e","#383838","#4a4a4a","#585858","#666666"]}}}},
{"width":10,"height":180,"view":{"fill":"#666666"},"data":{"name":"cb"},"mark":{"type":"rect"},"encoding":{"y":{"field":"a","type":"quantitative","scale":{"domain":[24000,25000,26000,27000,28000,29000,30000],"range":[180,147,87,54,31.7,15,1]},"axis":{"orient":"right","values":[24000,25000,26000,27000,28000,29000,30000],"grid":false}},"y2":{"field":"b"},"color":{"field":"a","type":"quantitative","legend":null,"scale":{"domain":[24000,25000,26000,27000,28000,29000,30000],"range":["#000000","#000000","#1e1e1e","#383838","#4a4a4a","#585858","#666666"]}}}},
{"width":62,"height":180,"view":{"fill":null,"stroke":null},"data":{"name":"sp"},"mark":{"type":"rule","opacity":0},"encoding":{}},
{"width":190,"height":180,"view":{"fill":"#4a4a4a"},"data":{"name":"mc"},"mark":{"type":"rect","width":25,"height":46,"clip":true},"encoding":{"x":{"field":"x","type":"quantitative","scale":{"domain":[15,4080]},"axis":{"values":[1000,2000,3000,4000],"grid":false}},"y":{"field":"y","type":"quantitative","scale":{"domain":[15,3988]},"axis":{"values":[500,1000,1500,2000,2500,3000,3500],"grid":false}},"color":{"field":"v","type":"quantitative","legend":null,"scale":{"domain":[24000,25000,26000,27000,28000,29000,30000],"range":["#000000","#000000","#1e1e1e","#383838","#4a4a4a","#585858","#666666"]}}}},
{"width":10,"height":180,"view":{"fill":"#666666"},"data":{"name":"cb"},"mark":{"type":"rect"},"encoding":{"y":{"field":"a","type":"quantitative","scale":{"domain":[24000,25000,26000,27000,28000,29000,30000],"range":[180,147,87,54,31.7,15,1]},"axis":{"orient":"right","values":[24000,25000,26000,27000,28000,29000,30000],"grid":false}},"y2":{"field":"b"},"color":{"field":"a","type":"quantitative","legend":null,"scale":{"domain":[24000,25000,26000,27000,28000,29000,30000],"range":["#000000","#000000","#1e1e1e","#383838","#4a4a4a","#585858","#666666"]}}}},
{"width":62,"height":180,"view":{"fill":null,"stroke":null},"data":{"name":"sp"},"mark":{"type":"rule","opacity":0},"encoding":{}},
{"width":191,"height":180,"data":{"name":"mr"},"mark":{"type":"rect","width":13.8,"height":46,"clip":true},"encoding":{"x":{"field":"x","type":"quantitative","scale":{"domain":[4080,4095]},"axis":{"zindex":1,"values":[4080,4083,4086,4089,4092,4095]}},"y":{"field":"y","type":"quantitative","scale":{"domain":[15,3988]},"axis":{"zindex":1,"values":[500,1000,1500,2000,2500,3000,3500]}},"color":{"field":"v","type":"quantitative","legend":null,"scale":{"domain":[24000,25000,26000,27000,28000,29000,30000],"range":["#000000","#000000","#1e1e1e","#383838","#4a4a4a","#585858","#666666"]}}}},
{"width":10,"height":180,"view":{"fill":"#666666"},"data":{"name":"cb"},"mark":{"type":"rect"},"encoding":{"y":{"field":"a","type":"quantitative","scale":{"domain":[24000,25000,26000,27000,28000,29000,30000],"range":[180,147,87,54,31.7,15,1]},"axis":{"orient":"right","values":[24000,25000,26000,27000,28000,29000,30000],"grid":false}},"y2":{"field":"b"},"color":{"field":"a","type":"quantitative","legend":null,"scale":{"domain":[24000,25000,26000,27000,28000,29000,30000],"range":["#000000","#000000","#1e1e1e","#383838","#4a4a4a","#585858","#666666"]}}}},
{"width":191,"height":180,"data":{"name":"bl"},"mark":{"type":"rect","width":13.8,"height":13,"clip":true},"encoding":{"x":{"field":"x","type":"quantitative","scale":{"domain":[0,15]},"axis":{"zindex":1,"values":[0,3,6,9,12,15],"title":"X Pixels"}},"y":{"field":"y","type":"quantitative","scale":{"domain":[0,15]},"axis":{"zindex":1,"values":[0,3,6,9,12,15],"title":"Y Pixels"}},"color":{"field":"v","type":"quantitative","legend":null,"scale":{"domain":[24000,25000,26000,27000,28000,29000,30000],"range":["#000000","#000000","#1e1e1e","#383838","#4a4a4a","#585858","#666666"]}}}},
{"width":10,"height":180,"view":{"fill":"#666666"},"data":{"name":"cb"},"mark":{"type":"rect"},"encoding":{"y":{"field":"a","type":"quantitative","scale":{"domain":[24000,25000,26000,27000,28000,29000,30000],"range":[180,147,87,54,31.7,15,1]},"axis":{"orient":"right","values":[24000,25000,26000,27000,28000,29000,30000],"grid":false}},"y2":{"field":"b"},"color":{"field":"a","type":"quantitative","legend":null,"scale":{"domain":[24000,25000,26000,27000,28000,29000,30000],"range":["#000000","#000000","#1e1e1e","#383838","#4a4a4a","#585858","#666666"]}}}},
{"width":62,"height":180,"view":{"fill":null,"stroke":null},"data":{"name":"sp"},"mark":{"type":"rule","opacity":0},"encoding":{}},
{"width":190,"height":180,"layer":[
{"data":{"name":"bc"},"mark":{"type":"rect","width":25,"height":13,"clip":true},"encoding":{"x":{"field":"x","type":"quantitative","scale":{"domain":[15,4080]},"axis":{"zindex":1,"values":[1000,2000,3000,4000],"title":"X Pixels"}},"y":{"field":"y","type":"quantitative","scale":{"domain":[0,15]},"axis":{"zindex":1,"values":[0,3,6,9,12,15]}},"color":{"field":"v","type":"quantitative","legend":null,"scale":{"domain":[24000,25000,26000,27000,28000,29000,30000],"range":["#000000","#000000","#1e1e1e","#383838","#4a4a4a","#585858","#666666"]}}}},
{"data":{"name":"bs2"},"mark":{"type":"rect","width":1,"height":12,"clip":true,"color":"#222222","opacity":0.45},"encoding":{"x":{"field":"x","type":"quantitative","scale":{"domain":[15,4080]},"axis":{"zindex":1,"values":[1000,2000,3000,4000],"title":"X Pixels"}},"y":{"field":"y","type":"quantitative","scale":{"domain":[0,15]},"axis":{"zindex":1,"values":[0,3,6,9,12,15]}}}},
{"data":{"name":"bs1"},"mark":{"type":"rect","width":1.3,"height":12,"clip":true,"color":"#000000"},"encoding":{"x":{"field":"x","type":"quantitative","scale":{"domain":[15,4080]},"axis":{"zindex":1,"values":[1000,2000,3000,4000],"title":"X Pixels"}},"y":{"field":"y","type":"quantitative","scale":{"domain":[0,15]},"axis":{"zindex":1,"values":[0,3,6,9,12,15]}}}}
]},
{"width":10,"height":180,"view":{"fill":"#666666"},"data":{"name":"cb"},"mark":{"type":"rect"},"encoding":{"y":{"field":"a","type":"quantitative","scale":{"domain":[24000,25000,26000,27000,28000,29000,30000],"range":[180,147,87,54,31.7,15,1]},"axis":{"orient":"right","values":[24000,25000,26000,27000,28000,29000,30000],"grid":false}},"y2":{"field":"b"},"color":{"field":"a","type":"quantitative","legend":null,"scale":{"domain":[24000,25000,26000,27000,28000,29000,30000],"range":["#000000","#000000","#1e1e1e","#383838","#4a4a4a","#585858","#666666"]}}}},
{"width":62,"height":180,"view":{"fill":null,"stroke":null},"data":{"name":"sp"},"mark":{"type":"rule","opacity":0},"encoding":{}},
{"width":191,"height":180,"data":{"name":"br"},"mark":{"type":"rect","width":13.8,"height":13,"clip":true},"encoding":{"x":{"field":"x","type":"quantitative","scale":{"domain":[4080,4095]},"axis":{"zindex":1,"values":[4080,4083,4086,4089,4092,4095],"title":"X Pixels"}},"y":{"field":"y","type":"quantitative","scale":{"domain":[0,15]},"axis":{"zindex":1,"values":[0,3,6,9,12,15]}},"color":{"field":"v","type":"quantitative","legend":null,"scale":{"domain":[24000,25000,26000,27000,28000,29000,30000],"range":["#000000","#000000","#1e1e1e","#383838","#4a4a4a","#585858","#666666"]}}}},
{"width":10,"height":180,"view":{"fill":"#666666"},"data":{"name":"cb"},"mark":{"type":"rect"},"encoding":{"y":{"field":"a","type":"quantitative","scale":{"domain":[24000,25000,26000,27000,28000,29000,30000],"range":[180,147,87,54,31.7,15,1]},"axis":{"orient":"right","values":[24000,25000,26000,27000,28000,29000,30000],"grid":false}},"y2":{"field":"b"},"color":{"field":"a","type":"quantitative","legend":null,"scale":{"domain":[24000,25000,26000,27000,28000,29000,30000],"range":["#000000","#000000","#1e1e1e","#383838","#4a4a4a","#585858","#666666"]}}}}
]}
